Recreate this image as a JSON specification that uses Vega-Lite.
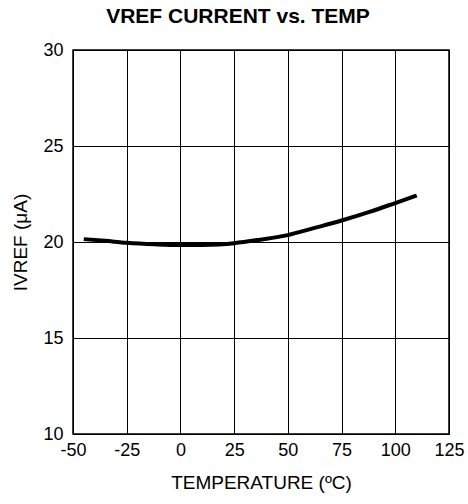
{
  "$schema": "https://vega.github.io/schema/vega-lite/v6.json",
  "width": 376,
  "height": 384,
  "autosize": {"type": "none"},
  "padding": {"left": 73, "top": 50, "right": 19, "bottom": 70},
  "background": "white",
  "title": {
    "text": "VREF CURRENT vs. TEMP",
    "font": "Liberation Sans",
    "fontSize": 21,
    "fontWeight": "bold",
    "color": "black",
    "anchor": "middle",
    "frame": "bounds",
    "offset": 14
  },
  "config": {
    "view": {"stroke": "black", "strokeWidth": 1.5},
    "axis": {
      "labelFont": "Liberation Sans",
      "titleFont": "Liberation Sans",
      "labelFontSize": 18,
      "titleFontSize": 19,
      "titleFontWeight": "normal",
      "labelColor": "black",
      "titleColor": "black",
      "gridColor": "black",
      "gridOpacity": 1,
      "gridWidth": 1,
      "domain": false,
      "ticks": false
    }
  },
  "data": {
    "values": [
      {"t": -45, "i": 20.15},
      {"t": -35, "i": 20.06},
      {"t": -25, "i": 19.96},
      {"t": -12, "i": 19.88},
      {"t": 0, "i": 19.84},
      {"t": 10, "i": 19.85},
      {"t": 25, "i": 19.94},
      {"t": 37, "i": 20.12},
      {"t": 50, "i": 20.36},
      {"t": 62, "i": 20.72},
      {"t": 75, "i": 21.12},
      {"t": 88, "i": 21.57},
      {"t": 100, "i": 22.03},
      {"t": 110, "i": 22.42}
    ]
  },
  "mark": {"type": "line", "color": "black", "strokeWidth": 4, "interpolate": "monotone"},
  "encoding": {
    "x": {
      "field": "t",
      "type": "quantitative",
      "scale": {"domain": [-50, 125], "nice": false, "zero": false},
      "axis": {
        "values": [-50, -25, 0, 25, 50, 75, 100, 125],
        "labelExpr": "replace(datum.label, '−', '-')",
        "title": "TEMPERATURE (ºC)",
        "labelPadding": 7,
        "titlePadding": 14,
        "labelFlush": false
      }
    },
    "y": {
      "field": "i",
      "type": "quantitative",
      "scale": {"domain": [10, 30], "nice": false, "zero": false},
      "axis": {
        "values": [10, 15, 20, 25, 30],
        "title": "IVREF (μA)",
        "labelPadding": 10,
        "titlePadding": 12
      }
    }
  }
}
